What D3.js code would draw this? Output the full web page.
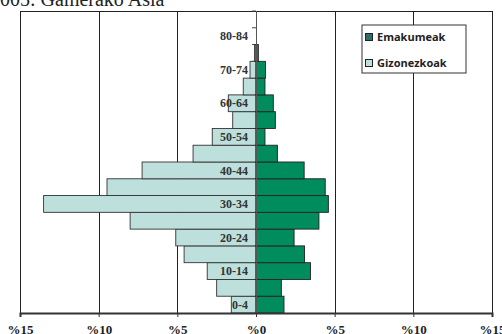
<!DOCTYPE html>
<html>
<head>
<meta charset="utf-8">
<script src="https://cdn.jsdelivr.net/npm/d3@7"></script>
<style>
  body { margin: 0; background: #fff; overflow: hidden; }
  svg { display: block; }
</style>
</head>
<body>
<div id="chart"></div>
<script>
// age groups, bottom to top
var ageGroups = ["0-4", "5-9", "10-14", "15-19", "20-24", "25-29", "30-34", "35-39", "40-44",
  "45-49", "50-54", "55-59", "60-64", "65-69", "70-74", "75-79", "80-84", "85+"];
// only every other group gets a label
var ageLabels = ["0-4", "10-14", "20-24", "30-34", "40-44", "50-54", "60-64", "70-74", "80-84"];
// percentages
var gizonezkoak = [1.57, 2.5, 3.1, 4.57, 5.1, 8.0, 13.5, 9.47, 7.24, 4.0, 2.78, 1.48, 1.76, 0.81, 0.38, 0.1, 0, 0];
var emakumeak = [1.78, 1.61, 3.46, 3.08, 2.42, 4.0, 4.6, 4.4, 3.06, 1.36, 0.57, 1.23, 1.1, 0.57, 0.6, 0.15, 0, 0];
var xTicks = [-15, -10, -5, 0, 5, 10, 15];
var seriesNames = ["Emakumeak", "Gizonezkoak"];
var title = "2005: Gamerako Asia";

var width = 502, height = 334;
var colFemale = "#008c5c", colMale = "#bde0dd";

var svg = d3.select("#chart").append("svg")
  .attr("width", width)
  .attr("height", height);

var x = d3.scaleLinear().domain([-15, 15]).range([20, 492]);
var y = d3.scaleBand().domain(ageGroups).range([313, 11]).padding(0);

svg.append("text")
  .attr("x", -10)
  .attr("y", 6)
  .attr("font-family", "Liberation Serif, serif")
  .attr("font-size", 20)
  .attr("fill", "#222")
  .text(title);

// plot border + vertical grid
svg.append("line")
  .attr("x1", x(-15)).attr("x2", x(15))
  .attr("y1", 11.5).attr("y2", 11.5)
  .attr("stroke", "#222");

svg.append("g")
  .selectAll("line")
  .data(xTicks.filter(function (d) { return d !== 0; }))
  .enter()
  .append("line")
  .attr("x1", function (d) { return Math.round(x(d)) + 0.5; })
  .attr("x2", function (d) { return Math.round(x(d)) + 0.5; })
  .attr("y1", 11)
  .attr("y2", 313)
  .attr("stroke", "#222");

// category tick marks on the middle axis
svg.append("g")
  .selectAll("line")
  .data(ageGroups)
  .enter()
  .append("line")
  .attr("x1", x(0) - 4).attr("x2", x(0))
  .attr("y1", function (d) { return y(d); })
  .attr("y2", function (d) { return y(d); })
  .attr("stroke", "#444");

var rows = ageGroups.map(function (a, i) {
  return { age: a, m: gizonezkoak[i], f: emakumeak[i] };
});

svg.append("g")
  .selectAll("rect")
  .data(rows.filter(function (d) { return d.m > 0; }))
  .enter()
  .append("rect")
  .attr("x", function (d) { return x(-d.m); })
  .attr("y", function (d) { return y(d.age); })
  .attr("width", function (d) { return x(0) - x(-d.m); })
  .attr("height", y.bandwidth())
  .attr("fill", colMale)
  .attr("stroke", "#333")
  .attr("stroke-width", 0.9);

svg.append("g")
  .selectAll("rect")
  .data(rows.filter(function (d) { return d.f > 0; }))
  .enter()
  .append("rect")
  .attr("x", x(0))
  .attr("y", function (d) { return y(d.age); })
  .attr("width", function (d) { return x(d.f) - x(0); })
  .attr("height", y.bandwidth())
  .attr("fill", colFemale)
  .attr("stroke", "#222")
  .attr("stroke-width", 0.9);

// middle axis
svg.append("line")
  .attr("x1", x(0) + 0.5).attr("x2", x(0) + 0.5)
  .attr("y1", 11).attr("y2", 313)
  .attr("stroke", "#555");

// category labels
svg.append("g")
  .selectAll("text")
  .data(ageLabels)
  .enter()
  .append("text")
  .attr("x", x(0) - 8)
  .attr("y", function (d) { return y(d) + y.bandwidth() / 2; })
  .attr("dy", "0.35em")
  .attr("text-anchor", "end")
  .attr("font-family", "Liberation Serif, serif")
  .attr("font-weight", "bold")
  .attr("font-size", 12)
  .attr("fill", "#333")
  .text(function (d) { return d; });

// x axis
var xAxis = d3.axisBottom(x)
  .tickValues(xTicks)
  .tickSize(4)
  .tickFormat(function (d) { return "%" + Math.abs(d); });

var gx = svg.append("g")
  .attr("transform", "translate(0,313)")
  .call(xAxis);
gx.select(".domain").attr("stroke", "#333").attr("stroke-width", 2);
gx.selectAll(".tick line").attr("stroke", "#333");
gx.selectAll(".tick text")
  .attr("y", 12)
  .attr("dy", "0.71em")
  .attr("font-family", "Liberation Serif, serif")
  .attr("font-weight", "bold")
  .attr("font-size", 13)
  .attr("fill", "#222");

// legend
var legend = svg.append("g").attr("transform", "translate(362,25)");
legend.append("rect")
  .attr("width", 104).attr("height", 48)
  .attr("fill", "#fff").attr("stroke", "#333");
var legendColors = ["#2e6e6a", colMale];
seriesNames.forEach(function (name, i) {
  var cy = 12 + i * 26;
  legend.append("rect")
    .attr("x", 3.5).attr("y", cy - 3.5)
    .attr("width", 7).attr("height", 7)
    .attr("fill", legendColors[i])
    .attr("stroke", "#222");
  legend.append("text")
    .attr("x", 15).attr("y", cy)
    .attr("dy", "0.35em")
    .attr("font-family", "Open Sans, sans-serif")
    .attr("font-weight", "bold")
    .attr("font-size", 11)
    .attr("fill", "#222")
    .text(name);
});
</script>
</body>
</html>
